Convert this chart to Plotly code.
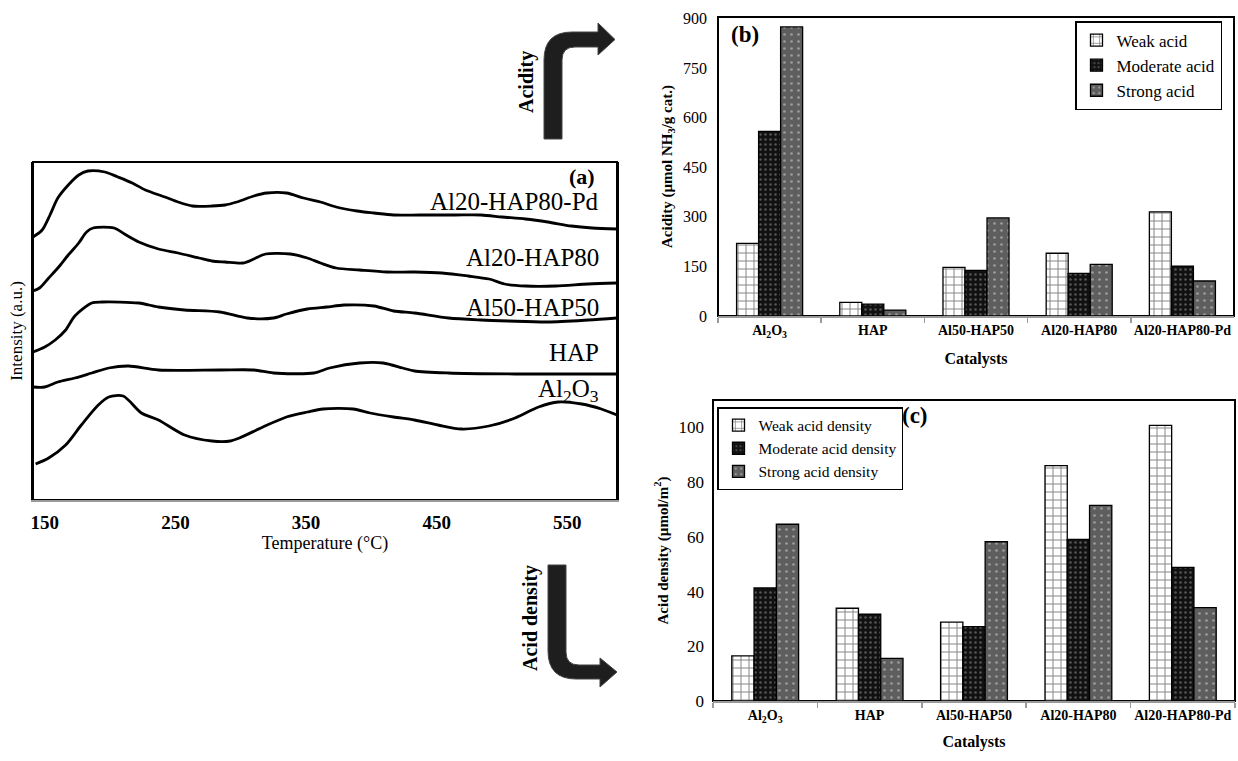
import plotly.graph_objects as go

# ---------------- data ----------------
# Panel (a): NH3-TPD profiles (intensity in arbitrary units)
t_pd = [141,148,154,160,168,176,183,196,206,217,227,242,252,263,278,288,297,310,320,335,348,361,373,389,402,417,437,464,484,500,518,535,553,569,588]
i_pd = [263,270,285,302,315,325,329,328,323,317,310,303,298,294,294,295,298,304,307,307,302,298,293,289,287,285,285,285,285,283,281,278,274,272,271]

t_a20 = [141,146,153,160,168,176,182,187,203,211,222,237,252,268,278,288,302,310,319,338,351,361,373,391,412,433,454,474,490,502,518,541,566,588]
i_a20 = [209,212,222,232,245,257,268,272,272,266,258,251,247,242,239,238,237,241,246,246,242,237,232,230,228,228,227,224,221,216,214,214,216,217]

t_a50 = [141,150,158,166,173,186,194,222,237,257,284,305,325,335,351,366,379,402,417,433,459,484,505,535,566,588]
i_a50 = [148,153,160,170,184,197,198,197,193,190,188,182,182,186,191,193,195,194,189,187,182,180,179,178,180,182]

t_hap = [141,150,160,173,186,199,214,237,284,310,325,356,368,391,409,424,433,459,510,588]
i_hap = [113,113,118,122,127,132,134,130,130,130,127,127,132,137,137,132,129,127,126,126]

t_al = [143,153,166,178,191,199,210,224,237,257,278,292,299,317,335,351,363,386,399,417,433,451,469,490,510,528,543,561,576,588]
i_al = [36,42,55,75,95,103,104,87,80,65,59,59,62,73,83,88,91,91,87,83,80,75,71,74,82,93,98,96,91,85]

curve_names = ["Al20-HAP80-Pd", "Al20-HAP80", "Al50-HAP50", "HAP", "Al<sub>2</sub>O<sub>3</sub>"]
temp_ticks = [150, 250, 350, 450, 550]

# Panels (b) and (c)
catalysts = ["Al2O3", "HAP", "Al50-HAP50", "Al20-HAP80", "Al20-HAP80-Pd"]
catalyst_labels = ["Al<sub>2</sub>O<sub>3</sub>", "HAP", "Al50-HAP50", "Al20-HAP80", "Al20-HAP80-Pd"]

weak_acid = [220, 41, 147, 190, 315]
moderate_acid = [559, 36, 138, 129, 151]
strong_acid = [875, 18, 297, 156, 106]
acidity_ticks = [0, 150, 300, 450, 600, 750, 900]

weak_density = [16.5, 33.9, 28.8, 86.0, 100.7]
moderate_density = [41.3, 31.7, 27.2, 59.1, 48.8]
strong_density = [64.6, 15.6, 58.2, 71.5, 34.1]
density_ticks = [0, 20, 40, 60, 80, 100]

# ---------------- styling ----------------
W, H = 1238, 761
SERIF = "Liberation Serif, Times New Roman, serif"


def px(x):
    return x / W


def py(y):
    return 1 - y / H


styles = {
    "weak": dict(color="white", pattern=dict(shape="+", fgcolor="black", size=8, solidity=0.22)),
    "moderate": dict(color="#111111", pattern=dict(shape=".", fgcolor="#9a9a9a", size=5, solidity=0.2)),
    "strong": dict(color="#5e5e5e", pattern=dict(shape=".", fgcolor="#d8d8d8", size=7, solidity=0.12)),
}

fig = go.Figure()

# Panel (a)
for t, i in [(t_pd, i_pd), (t_a20, i_a20), (t_a50, i_a50), (t_hap, i_hap), (t_al, i_al)]:
    fig.add_trace(go.Scatter(x=t, y=i, mode="lines", line=dict(color="black", width=2.8, shape="spline", smoothing=0.8),
                             showlegend=False, xaxis="x", yaxis="y", hoverinfo="skip"))

# Panel (b)
for name, vals, key in [("Weak acid", weak_acid, "weak"), ("Moderate acid", moderate_acid, "moderate"),
                        ("Strong acid", strong_acid, "strong")]:
    st = styles[key]
    fig.add_trace(go.Bar(x=catalysts, y=vals, name=name, xaxis="x2", yaxis="y2", legend="legend",
                         legendgroup="b" + key,
                         marker=dict(color=st["color"], pattern=st["pattern"], line=dict(color="black", width=1.3))))

# Panel (c)
for name, vals, key in [("Weak acid density", weak_density, "weak"),
                        ("Moderate acid density", moderate_density, "moderate"),
                        ("Strong acid density", strong_density, "strong")]:
    st = styles[key]
    fig.add_trace(go.Bar(x=catalysts, y=vals, name=name, xaxis="x3", yaxis="y3", legend="legend2",
                         legendgroup="c" + key,
                         marker=dict(color=st["color"], pattern=st["pattern"], line=dict(color="black", width=1.3))))

# domains
dom_a_x = [px(33), px(617)]
dom_a_y = [py(500), py(162)]
dom_b_x = [px(718), px(1234)]
dom_b_y = [py(316), py(17)]
dom_c_x = [px(713), px(1235)]
dom_c_y = [py(701), py(400)]

fig.update_layout(
    width=W, height=H, autosize=False,
    margin=dict(l=0, r=0, t=0, b=0),
    paper_bgcolor="white", plot_bgcolor="white",
    font=dict(family=SERIF, color="black", size=15),
    barmode="group", bargap=0.36, bargroupgap=0,
    xaxis=dict(domain=dom_a_x, anchor="y", range=[141, 588], tickvals=temp_ticks,
               ticks="", showgrid=False, zeroline=False, showline=True, linecolor="#9a9a9a", linewidth=2,
               tickfont=dict(family=SERIF, size=19, color="black", weight="bold"), ticklabelstandoff=4,
               title=dict(text="Temperature (°C)", font=dict(family=SERIF, size=18), standoff=2),
               automargin=False),
    yaxis=dict(domain=dom_a_y, anchor="x", range=[0, 338], showticklabels=False, ticks="",
               showgrid=False, zeroline=False, showline=True, linecolor="black", linewidth=2, mirror=True,
               title=dict(text="Intensity (a.u.)", font=dict(family=SERIF, size=17), standoff=4),
               automargin=False),
    xaxis2=dict(domain=dom_b_x, anchor="y2", tickvals=catalysts, ticktext=catalyst_labels, tickangle=0,
                ticks="outside", tickson="boundaries", ticklen=5, tickcolor="#9a9a9a", tickwidth=1.5,
                showgrid=False, zeroline=False, showline=True, linecolor="#9a9a9a", linewidth=2,
                tickfont=dict(family=SERIF, size=14, color="black", weight="bold"),
                title=dict(text="Catalysts", font=dict(family=SERIF, size=16, weight="bold"), standoff=14),
                automargin=False),
    yaxis2=dict(domain=dom_b_y, anchor="x2", range=[0, 905], tickvals=acidity_ticks, ticks="",
                showgrid=False, zeroline=False, showline=False, ticklabelstandoff=10,
                tickfont=dict(family=SERIF, size=16, color="black"),
                title=dict(text="Acidity (µmol NH<sub>3</sub>/g cat.)",
                           font=dict(family=SERIF, size=15, weight="bold"), standoff=6),
                automargin=False),
    xaxis3=dict(domain=dom_c_x, anchor="y3", tickvals=catalysts, ticktext=catalyst_labels, tickangle=0,
                ticks="outside", tickson="boundaries", ticklen=5, tickcolor="#9a9a9a", tickwidth=1.5,
                showgrid=False, zeroline=False, showline=True, linecolor="#9a9a9a", linewidth=2,
                tickfont=dict(family=SERIF, size=14, color="black", weight="bold"),
                title=dict(text="Catalysts", font=dict(family=SERIF, size=16, weight="bold"), standoff=12),
                automargin=False),
    yaxis3=dict(domain=dom_c_y, anchor="x3", range=[0, 110], tickvals=density_ticks, ticks="",
                showgrid=False, zeroline=False, showline=False, ticklabelstandoff=8,
                tickfont=dict(family=SERIF, size=17, color="black"),
                title=dict(text="Acid density (µmol/m<sup>2</sup>)",
                           font=dict(family=SERIF, size=15, weight="bold"), standoff=6),
                automargin=False),
    legend=dict(x=px(1222), y=py(21), xanchor="right", yanchor="top", bgcolor="white",
                bordercolor="black", borderwidth=1.5, font=dict(family=SERIF, size=17),
                tracegroupgap=4, traceorder="normal", itemclick=False, itemdoubleclick=False),
    legend2=dict(x=px(717), y=py(407), xanchor="left", yanchor="top", bgcolor="white",
                 bordercolor="black", borderwidth=1.5, font=dict(family=SERIF, size=15.5),
                 tracegroupgap=1, traceorder="normal", itemclick=False, itemdoubleclick=False),
)

# frames for panels
for xr, yr in [("x domain", "y domain"), ("x2 domain", "y2 domain"), ("x3 domain", "y3 domain")]:
    fig.add_shape(type="rect", xref=xr, yref=yr, x0=0, x1=1, y0=0, y1=1,
                  line=dict(color="black", width=2), layer="below")

# curve labels in panel (a)
label_y = [298, 243, 193, 148, 110]
for name, ly in zip(curve_names, label_y):
    fig.add_annotation(x=px(601), y=py(500 - ly), xref="paper", yref="paper", text=name, showarrow=False,
                       xanchor="right", yanchor="middle", font=dict(family=SERIF, size=25))
fig.add_annotation(x=px(597), y=py(177), xref="paper", yref="paper", text="<b>(a)</b>", showarrow=False,
                   xanchor="right", yanchor="middle", font=dict(family=SERIF, size=22))
fig.add_annotation(x=px(729), y=py(35), xref="paper", yref="paper", text="<b>(b)</b>", showarrow=False,
                   xanchor="left", yanchor="middle", font=dict(family=SERIF, size=23))
fig.add_annotation(x=px(900), y=py(415), xref="paper", yref="paper", text="<b>(c)</b>", showarrow=False,
                   xanchor="left", yanchor="middle", font=dict(family=SERIF, size=23))

# arrows
def path(points):
    out = []
    for cmd, pts in points:
        coords = " ".join(f"{px(x):.5f},{py(y):.5f}" for x, y in pts)
        out.append(f"{cmd}{coords}")
    return " ".join(out) + " Z"


acidity_arrow = path([("M", [(544, 139)]), ("L", [(544, 60)]), ("Q", [(544, 32), (572, 32)]),
                      ("L", [(598, 32)]), ("L", [(598, 23)]), ("L", [(615, 39.5)]), ("L", [(598, 55)]),
                      ("L", [(598, 47)]), ("L", [(575, 47)]), ("Q", [(562, 47), (562, 60)]),
                      ("L", [(562, 139)])])
density_arrow = path([("M", [(548, 565)]), ("L", [(566, 565)]), ("L", [(566, 652)]),
                      ("Q", [(566, 665), (579, 665)]), ("L", [(600, 665)]), ("L", [(600, 658)]),
                      ("L", [(617, 672)]), ("L", [(600, 687)]), ("L", [(600, 679)]), ("L", [(576, 679)]),
                      ("Q", [(548, 679), (548, 651)])])
for p in [acidity_arrow, density_arrow]:
    fig.add_shape(type="path", path=p, xref="paper", yref="paper", fillcolor="#1e1e1e",
                  line=dict(color="#444444", width=1))

fig.add_annotation(x=px(526), y=py(82), xref="paper", yref="paper", text="<b>Acidity</b>", showarrow=False,
                   xanchor="center", yanchor="middle", textangle=-90, font=dict(family=SERIF, size=20))
fig.add_annotation(x=px(530), y=py(618), xref="paper", yref="paper", text="<b>Acid density</b>", showarrow=False,
                   xanchor="center", yanchor="middle", textangle=-90, font=dict(family=SERIF, size=20))

fig.write_html("out.html", config={"displayModeBar": False, "staticPlot": True},
               post_script="document.body.style.margin='0';document.body.style.overflow='hidden';")
